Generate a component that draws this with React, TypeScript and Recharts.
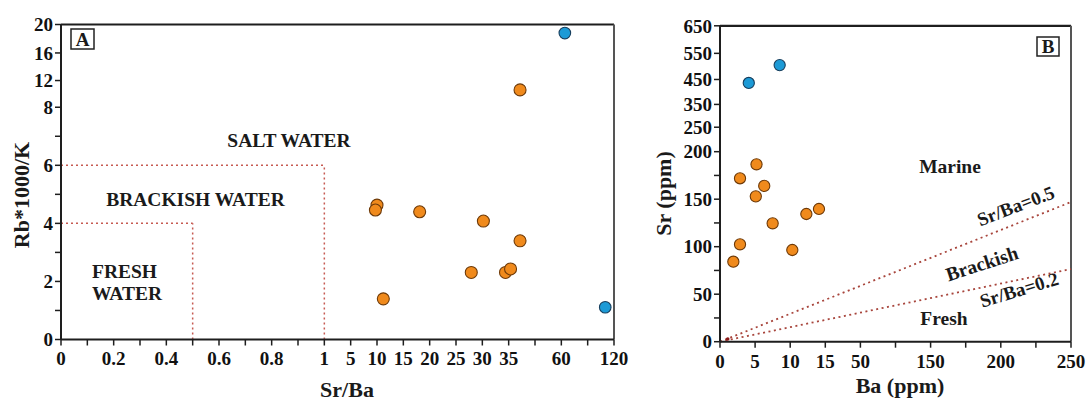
import React from 'react';
import { ScatterChart, Scatter, XAxis, YAxis, ReferenceLine, ReferenceDot } from 'recharts';

const FONT = '"Liberation Serif", "Times New Roman", Times, serif';

// ---------- Panel A data ----------
const aOrangeSrBa = [10.0, 9.7, 18.1, 30.2, 40.4, 27.9, 34.4, 35.9, 11.2, 40.4];
const aOrangeRbK = [4.63, 4.46, 4.4, 4.08, 3.4, 2.31, 2.31, 2.43, 1.4, 10.6];
const aBlueSrBa = [110, 64];
const aBlueRbK = [1.11, 18.8];

const aXTicks = [0, 0.1, 0.2, 0.3, 0.4, 0.5, 0.6, 0.7, 0.8, 0.9, 1, 5, 10, 15, 20, 25, 30, 35, 47.5, 60, 90, 120];
const aXLabels = ['0', '', '0.2', '', '0.4', '', '0.6', '', '0.8', '', '1', '5', '10', '15', '20', '25', '30', '35', '', '60', '', '120'];
const aYTicks = [0, 1, 2, 3, 4, 5, 6, 7, 8, 12, 16, 20];
const aYLabels = ['0', '', '2', '', '4', '', '6', '', '8', '12', '16', '20'];

// broken-axis scale definitions (value -> axis position)
const aXBreakVals = [0, 1, 5, 35, 60, 120];
const aXBreakPos = [0, 10, 11, 17, 19, 21];
const aYBreakVals = [0, 8, 12, 16, 20];
const aYBreakPos = [0, 8, 8.92, 9.87, 10.85];

// ---------- Panel B data ----------
const bOrangeBa = [5.2, 2.85, 6.3, 5.1, 12.3, 14.1, 7.5, 2.85, 10.3, 1.9];
const bOrangeSr = [186.7, 172, 164, 153, 134.4, 139.7, 124.6, 102.5, 96.5, 84.2];
const bBlueBa = [4.1, 8.5];
const bBlueSr = [436, 505];

const bXTicks = [0, 5, 10, 15, 50, 100, 150, 175, 200, 225, 250];
const bXLabels = ['0', '5', '10', '15', '50', '', '150', '', '200', '', '250'];
const bYTicks = [0, 25, 50, 75, 100, 125, 150, 175, 200, 250, 350, 450, 550, 650];
const bYLabels = ['0', '', '50', '', '100', '', '150', '', '200', '250', '350', '450', '550', '650'];

const bXBreakVals = [0, 15, 50, 150, 250];
const bXBreakPos = [0, 3, 4, 6, 10];
const bYBreakVals = [0, 200, 250, 350, 450, 550, 650];
const bYBreakPos = [0, 8, 9.03, 9.99, 11.04, 12.14, 13.3];

// Sr/Ba division lines (end points at Ba = 250)
const bLineEndBa = 250;
const bLineUpperSr = 147;
const bLineLowerSr = 76.5;

function piecewise(v: number, vals: number[], pos: number[]): number {
  for (let i = 0; i < vals.length - 1; i++) {
    if (v <= vals[i + 1] || i === vals.length - 2) {
      const t = (v - vals[i]) / (vals[i + 1] - vals[i]);
      return pos[i] + t * (pos[i + 1] - pos[i]);
    }
  }
  return pos[pos.length - 1];
}

const ax = (v: number) => piecewise(v, aXBreakVals, aXBreakPos);
const ay = (v: number) => piecewise(v, aYBreakVals, aYBreakPos);
const bx = (v: number) => piecewise(v, bXBreakVals, bXBreakPos);
const by = (v: number) => piecewise(v, bYBreakVals, bYBreakPos);

function labeler(ticks: number[], labels: string[], f: (v: number) => number) {
  return (p: number) => {
    const i = ticks.findIndex((t) => Math.abs(f(t) - p) < 1e-6);
    return i >= 0 ? labels[i] : '';
  };
}

const zip = (xs: number[], ys: number[], fx: (v: number) => number, fy: (v: number) => number) =>
  xs.map((x, i) => ({ x: fx(x), y: fy(ys[i]) }));

const ORANGE = '#F08A1C';
const ORANGE_EDGE = '#6E3A08';
const BLUE = '#1C9AD6';
const BLUE_EDGE = '#173F5E';
const DOT_RED = '#C65A52';
const DOT_RED_B = '#A8453C';
const AXIS = '#1e1e1e';

const dot = (fill: string, stroke: string, r: number) => (props: any) => (
  <circle cx={props.cx} cy={props.cy} r={r} fill={fill} stroke={stroke} strokeWidth={1.1} />
);

const tickStyle = { fontFamily: FONT, fontWeight: 700, fontSize: 19, fill: '#111' };
const txt = { fontFamily: FONT, fontWeight: 700, fill: '#1a1a1a' } as const;

function PanelA() {
  const aOrange = zip(aOrangeSrBa, aOrangeRbK, ax, ay);
  const aBlue = zip(aBlueSrBa, aBlueRbK, ax, ay);
  const xMax = ax(120);
  const yMax = ay(20);
  return (
    <ScatterChart width={640} height={403} margin={{ top: 24.5, right: 26, left: 0, bottom: 0 }}>
      <XAxis
        type="number"
        dataKey="x"
        domain={[0, xMax]}
        ticks={aXTicks.map(ax)}
        interval={0}
        tickFormatter={labeler(aXTicks, aXLabels, ax)}
        height={63.5}
        tickSize={6}
        tickMargin={6}
        tick={tickStyle}
        axisLine={{ stroke: AXIS, strokeWidth: 2 }}
        tickLine={{ stroke: AXIS, strokeWidth: 1.5 }}
        allowDataOverflow
      />
      <YAxis
        type="number"
        dataKey="y"
        domain={[0, yMax]}
        ticks={aYTicks.map(ay)}
        interval={0}
        tickFormatter={labeler(aYTicks, aYLabels, ay)}
        width={61}
        tickSize={6}
        tickMargin={2}
        tick={tickStyle}
        axisLine={{ stroke: AXIS, strokeWidth: 2 }}
        tickLine={{ stroke: AXIS, strokeWidth: 1.5 }}
        allowDataOverflow
      />
      <ReferenceLine y={yMax} stroke={AXIS} strokeWidth={2.2} />
      <ReferenceLine x={xMax} stroke="#555" strokeWidth={2} />
      <ReferenceLine segment={[{ x: 0, y: ay(6) }, { x: ax(1), y: ay(6) }]} stroke={DOT_RED} strokeWidth={1.5} strokeDasharray="2 3" />
      <ReferenceLine segment={[{ x: ax(1), y: 0 }, { x: ax(1), y: ay(6) }]} stroke={DOT_RED} strokeWidth={1.5} strokeDasharray="2 3" />
      <ReferenceLine segment={[{ x: 0, y: ay(4) }, { x: ax(0.5), y: ay(4) }]} stroke={DOT_RED} strokeWidth={1.5} strokeDasharray="2 3" />
      <ReferenceLine segment={[{ x: ax(0.5), y: 0 }, { x: ax(0.5), y: ay(4) }]} stroke={DOT_RED} strokeWidth={1.5} strokeDasharray="2 3" />
      <Scatter data={aOrange} isAnimationActive={false} shape={dot(ORANGE, ORANGE_EDGE, 6)} />
      <Scatter data={aBlue} isAnimationActive={false} shape={dot(BLUE, BLUE_EDGE, 5.8)} />
      <rect x={71} y={29} width={23} height={20} fill="none" stroke="#222" strokeWidth={1.5} />
      <text x={82.5} y={46} textAnchor="middle" fontSize={19} {...txt}>A</text>
      <text x={289} y={147} textAnchor="middle" fontSize={19.5} {...txt}>SALT WATER</text>
      <text x={195.5} y={206} textAnchor="middle" fontSize={19.5} {...txt}>BRACKISH WATER</text>
      <text x={92} y={278} textAnchor="start" fontSize={19.5} {...txt}>FRESH</text>
      <text x={92} y={300} textAnchor="start" fontSize={19.5} {...txt}>WATER</text>
      <text x={21} y={195} dy="0.35em" textAnchor="middle" fontSize={22} transform="rotate(-90 21 195)" {...txt}>Rb*1000/K</text>
      <text x={347} y={397} textAnchor="middle" fontSize={22} {...txt}>Sr/Ba</text>
    </ScatterChart>
  );
}

function PanelB() {
  const bOrange = zip(bOrangeBa, bOrangeSr, bx, by);
  const bBlue = zip(bBlueBa, bBlueSr, bx, by);
  const xMax = bx(250);
  const yMax = by(650);
  return (
    <ScatterChart width={448} height={403} margin={{ top: 25.8, right: 17, left: 0, bottom: 0 }}>
      <XAxis
        type="number"
        dataKey="x"
        domain={[0, xMax]}
        ticks={bXTicks.map(bx)}
        interval={0}
        tickFormatter={labeler(bXTicks, bXLabels, bx)}
        height={61.3}
        tickSize={6}
        tickMargin={7}
        tick={tickStyle}
        axisLine={{ stroke: AXIS, strokeWidth: 2 }}
        tickLine={{ stroke: AXIS, strokeWidth: 1.5 }}
        allowDataOverflow
      />
      <YAxis
        type="number"
        dataKey="y"
        domain={[0, yMax]}
        ticks={bYTicks.map(by)}
        interval={0}
        tickFormatter={labeler(bYTicks, bYLabels, by)}
        width={80}
        tickSize={6}
        tickMargin={2}
        tick={tickStyle}
        axisLine={{ stroke: AXIS, strokeWidth: 2 }}
        tickLine={{ stroke: AXIS, strokeWidth: 1.5 }}
        allowDataOverflow
      />
      <ReferenceLine y={yMax} stroke={AXIS} strokeWidth={2.2} />
      <ReferenceLine x={xMax} stroke="#555" strokeWidth={2} />
      <ReferenceLine segment={[{ x: 0, y: 0 }, { x: bx(bLineEndBa), y: by(bLineUpperSr) }]} stroke={DOT_RED_B} strokeWidth={1.8} strokeDasharray="2 3.5" />
      <ReferenceLine segment={[{ x: 0, y: 0 }, { x: bx(bLineEndBa), y: by(bLineLowerSr) }]} stroke={DOT_RED_B} strokeWidth={1.8} strokeDasharray="2 3.5" />
      <ReferenceDot x={bx(1.1)} y={by(2.8)} r={1.8} fill="#8B1A1A" stroke="none" />
      <Scatter data={bOrange} isAnimationActive={false} shape={dot(ORANGE, ORANGE_EDGE, 5.6)} />
      <Scatter data={bBlue} isAnimationActive={false} shape={dot(BLUE, BLUE_EDGE, 5.6)} />
      <rect x={397} y={37} width={22} height={19} fill="none" stroke="#222" strokeWidth={1.5} />
      <text x={408} y={53} textAnchor="middle" fontSize={19} {...txt}>B</text>
      <text x={310} y={173} textAnchor="middle" fontSize={19.5} {...txt}>Marine</text>
      <text x={378} y={212} textAnchor="middle" fontSize={19} transform="rotate(-21 378 212)" {...txt}>Sr/Ba=0.5</text>
      <text x={344} y={270} textAnchor="middle" fontSize={19.5} transform="rotate(-18 344 270)" {...txt}>Brackish</text>
      <text x={381} y={296} textAnchor="middle" fontSize={19} transform="rotate(-17 381 296)" {...txt}>Sr/Ba=0.2</text>
      <text x={304} y={325} textAnchor="middle" fontSize={19.5} {...txt}>Fresh</text>
      <text x={23} y={193.5} dy="0.35em" textAnchor="middle" fontSize={22} transform="rotate(-90 23 193.5)" {...txt}>Sr (ppm)</text>
      <text x={260} y={393} textAnchor="middle" fontSize={22} {...txt}>Ba (ppm)</text>
    </ScatterChart>
  );
}

export default function App() {
  return (
    <div style={{ position: 'absolute', left: 0, top: 0, width: 1088, height: 403, background: '#fff' }}>
      <div style={{ position: 'absolute', left: 0, top: 0 }}>
        <PanelA />
      </div>
      <div style={{ position: 'absolute', left: 640, top: 0 }}>
        <PanelB />
      </div>
    </div>
  );
}
